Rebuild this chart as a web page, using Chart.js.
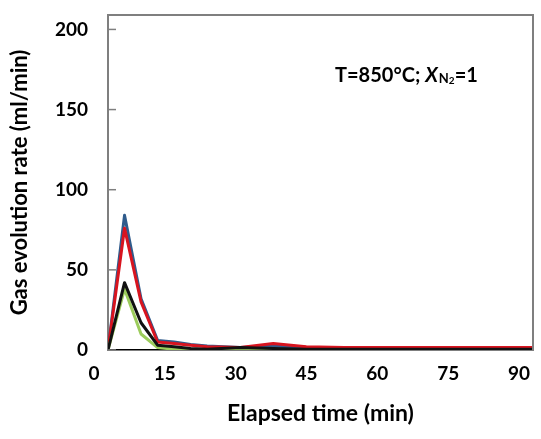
<!DOCTYPE html>
<html>
<head>
<meta charset="utf-8">
<script src="https://cdn.jsdelivr.net/npm/chart.js@4"></script>
<style>
  html, body { margin: 0; padding: 0; background: #fff; }
  #wrap { width: 541px; height: 439px; }
</style>
</head>
<body>
<div id="wrap"><canvas id="myChart"></canvas></div>
<script>
const time = [0, 3.5, 7, 10.5, 14, 17.5, 21, 28, 35, 42, 50, 60, 75, 90];
const blueRate = [0, 84, 32, 6, 5, 3.5, 2.5, 1.5, 2.5, 1.5, 1.2, 1, 1, 1];
const redRate = [0, 76, 30, 5, 4, 3, 2, 1.5, 4, 2, 1.5, 1.5, 1.5, 1.5];
const blackRate = [0, 42, 17, 3, 2, 1, 0.5, 1.5, 1, 0.5, 0.5, 0.5, 0.5, 0.5];
const greenRate = [0, 38, 10, 1.5, 0.5, 0.2, 0, 0, 0, 0, 0, 0, 0, 0];
const xTicks = [0, 15, 30, 45, 60, 75, 90];
const yTicks = [0, 50, 100, 150, 200];

const ctx = document.getElementById("myChart");
const font = "Lato";

function toPoints(arr) {
  return arr.map((v, i) => ({ x: time[i], y: v }));
}

function makeSet(arr, color) {
  return {
    data: toPoints(arr),
    borderColor: color,
    backgroundColor: color,
    borderWidth: 3,
    borderJoinStyle: "round",
    pointRadius: 0,
    tension: 0,
    fill: false,
  };
}

// frame on top/right + small inward ticks on the y axis
const frame = {
  id: "frame",
  afterDraw(chart) {
    const { ctx, chartArea } = chart;
    const y = chart.scales.y;
    ctx.save();
    ctx.strokeStyle = "#7f7f7f";
    ctx.lineWidth = 2;
    ctx.beginPath();
    ctx.moveTo(chartArea.left, chartArea.top);
    ctx.lineTo(chartArea.right, chartArea.top);
    ctx.lineTo(chartArea.right, chartArea.bottom);
    ctx.stroke();
    ctx.lineWidth = 1.5;
    yTicks.forEach((v) => {
      const py = y.getPixelForValue(v);
      ctx.beginPath();
      ctx.moveTo(chartArea.left, py);
      ctx.lineTo(chartArea.left + 8, py);
      ctx.stroke();
    });
    ctx.restore();
  },
};

const annotation = {
  id: "annotation",
  afterDraw(chart) {
    const { ctx } = chart;
    ctx.save();
    ctx.fillStyle = "#000";
    ctx.textBaseline = "alphabetic";
    let x = 335;
    const base = 82;
    ctx.font = `bold 20px ${font}`;
    ctx.fillText("T=850°C; ", x, base);
    x += ctx.measureText("T=850°C; ").width;
    ctx.font = `italic bold 20px ${font}`;
    ctx.fillText("X", x, base);
    x += ctx.measureText("X").width + 1;
    ctx.font = `bold 13px ${font}`;
    ctx.fillText("N", x, base + 1);
    x += ctx.measureText("N").width;
    ctx.font = `bold 10px ${font}`;
    ctx.fillText("2", x, base + 2);
    x += ctx.measureText("2").width;
    ctx.font = `bold 20px ${font}`;
    ctx.fillText("=1", x, base);
    ctx.restore();
  },
};

new Chart(ctx, {
  type: "line",
  data: {
    datasets: [
      makeSet(blackRate, "#111111"),
      makeSet(greenRate, "#9ccc5c"),
      makeSet(redRate, "#d8141f"),
      makeSet(blueRate, "#2f5b8c"),
    ],
  },
  options: {
    responsive: true,
    maintainAspectRatio: false,
    animation: false,
    events: [],
    layout: { padding: { left: 0, top: 15, right: 8, bottom: 0 } },
    scales: {
      x: {
        type: "linear",
        min: 0,
        max: 90,
        afterBuildTicks: (scale) => {
          scale.ticks = xTicks.map((v) => ({ value: v }));
        },
        afterFit: (scale) => {
          scale.height = 89;
          scale.paddingLeft = 0;
          scale.paddingRight = 0;
        },
        grid: { display: false, drawTicks: false },
        border: { display: true, color: "#000", width: 1.5 },
        ticks: {
          padding: 12,
          labelOffset: -14,
          color: "#000",
          font: { family: font, size: 19, weight: "bold" },
        },
        title: {
          display: true,
          text: "Elapsed time (min)",
          color: "#000",
          font: { family: font, size: 23, weight: "bold" },
          padding: { top: 0, bottom: 12 },
        },
      },
      y: {
        min: 0,
        max: 209,
        afterBuildTicks: (scale) => {
          scale.ticks = yTicks.map((v) => ({ value: v }));
        },
        afterFit: (scale) => {
          scale.width = 108;
          scale.paddingTop = 0;
          scale.paddingBottom = 0;
        },
        grid: { display: false, drawTicks: false },
        border: { display: true, color: "#7f7f7f", width: 2 },
        ticks: {
          padding: 20,
          color: "#000",
          font: { family: font, size: 19, weight: "bold" },
        },
        title: {
          display: true,
          text: "Gas evolution rate (ml/min)",
          color: "#000",
          font: { family: font, size: 22, weight: "bold" },
          padding: { top: 7, bottom: 0 },
        },
      },
    },
    plugins: {
      legend: { display: false },
      tooltip: { enabled: false },
    },
  },
  plugins: [frame, annotation],
});
</script>
</body>
</html>
